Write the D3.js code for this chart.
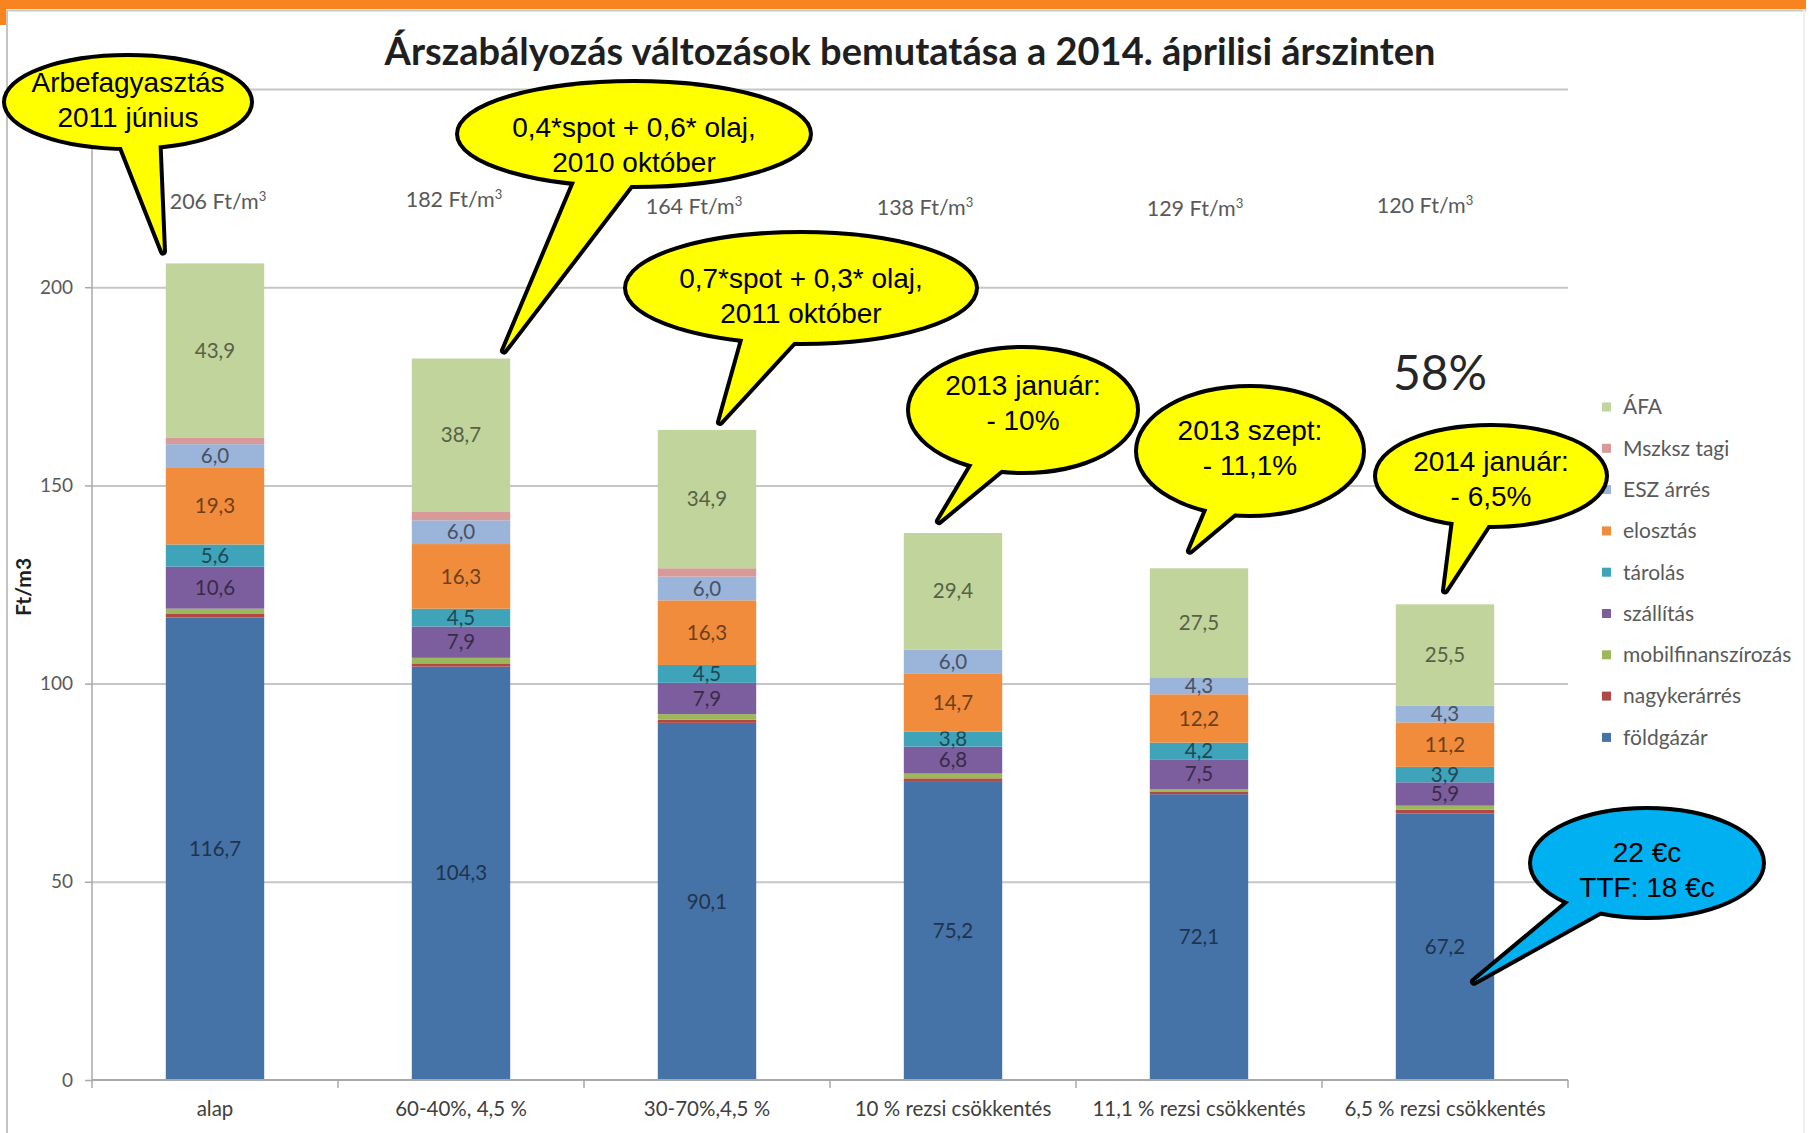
<!DOCTYPE html>
<html>
<head>
<meta charset="utf-8">
<script src="https://cdnjs.cloudflare.com/ajax/libs/d3/7.8.5/d3.min.js"></script>
<style>
  body { margin: 0; background: #fff; }
  svg { display: block; }
</style>
</head>
<body>
<div class="chart"></div>
<script>
// Kategóriák és adatsorok (Ft/m3)
const categories = ["alap", "60-40%, 4,5 %", "30-70%,4,5 %", "10 % rezsi csökkentés", "11,1 % rezsi csökkentés", "6,5 % rezsi csökkentés"];
const seriesNames = ["földgázár", "nagykerárrés", "mobilfinanszírozás", "szállítás", "tárolás", "elosztás", "ESZ árrés", "Mszksz tagi", "ÁFA"];
const foldgazar = [116.7, 104.3, 90.1, 75.2, 72.1, 67.2];
const nagykerarres = [1.0, 0.8, 0.8, 0.9, 0.7, 1.0];
const mobilfin = [1.2, 1.4, 1.4, 1.2, 0.6, 1.0];
const szallitas = [10.6, 7.9, 7.9, 6.8, 7.5, 5.9];
const tarolas = [5.6, 4.5, 4.5, 3.8, 4.2, 3.9];
const elosztas = [19.3, 16.3, 16.3, 14.7, 12.2, 11.2];
const eszArres = [6.0, 6.0, 6.0, 6.0, 4.3, 4.3];
const mszkszTagi = [1.7, 2.1, 2.1, 0, 0, 0];
const afa = [43.9, 38.7, 34.9, 29.4, 27.5, 25.5];
const yTicks = [0, 50, 100, 150, 200];
const yGrid = [50, 100, 150, 200, 250];
const colors = ["#4572a7", "#b04845", "#9db85a", "#7c5e9e", "#3fa3ba", "#f08c3c", "#9bb4d9", "#d89a98", "#c0d49b"];

// Szövegbuborékok
const callouts = [
  { lines: ["Árbefagyasztás", "2011 június"], cx: 128, cy: 102, rx: 122, ry: 45, a: [95, 73], tip: { cat: 0, dx: -52, v: 209 }, dy: -2, fill: "#ffff00" },
  { lines: ["0,4*spot + 0,6* olaj,", "2010 október"], cx: 634, cy: 134, rx: 175, ry: 51, a: [112, 89], tip: { cat: 1, dx: 43, v: 184 }, dy: 11, fill: "#ffff00" },
  { lines: ["0,7*spot + 0,3* olaj,", "2011 október"], cx: 801, cy: 288, rx: 174, ry: 54, a: [112, 90], tip: { cat: 2, dx: 13, v: 166 }, dy: 8, fill: "#ffff00" },
  { lines: ["2013 január:", "- 10%"], cx: 1023, cy: 410, rx: 113, ry: 61, a: [118, 97], tip: { cat: 3, dx: -14, v: 141 }, dy: -7, fill: "#ffff00" },
  { lines: ["2013 szept:", "- 11,1%"], cx: 1250, cy: 451, rx: 112, ry: 63, a: [114, 93], tip: { cat: 4, dx: -9, v: 133.5 }, dy: -3, fill: "#ffff00" },
  { lines: ["2014 január:", "- 6,5%"], cx: 1491, cy: 476, rx: 114, ry: 49, a: [112, 89], tip: { cat: 5, dx: 0, v: 123.5 }, dy: 3, fill: "#ffff00" },
  { lines: ["22 €c", "TTF: 18 €c"], cx: 1647, cy: 863, rx: 115, ry: 53, a: [135, 111], tip: { cat: 5, dx: 29, v: 24.8 }, dy: 7, fill: "#00b0f0" }
];
const totalNudge = [3, -7, -13, -28, -4, -20];

const width = 1813;
const height = 1133;
const plot = { left: 92, right: 1568, top: 89, bottom: 1080 };
const font = "Lato, 'Open Sans', sans-serif";

const svg = d3.select('.chart')
    .append('svg')
    .attr('width', width)
    .attr('height', height)
    .style('font-family', font);

// Keret
svg.append('rect').attr('x', 0).attr('y', 0).attr('width', 1806).attr('height', 9).attr('fill', '#f7841f');
svg.append('rect').attr('x', 0).attr('y', 0).attr('width', 6).attr('height', 25).attr('fill', '#f7841f');
svg.append('line').attr('x1', 6).attr('x2', 1806).attr('y1', 10.5).attr('y2', 10.5).attr('stroke', '#c9c9c9').attr('stroke-width', 2);
svg.append('line').attr('x1', 7).attr('x2', 7).attr('y1', 10).attr('y2', height).attr('stroke', '#c4c4c4').attr('stroke-width', 2);
svg.append('line').attr('x1', 1804).attr('x2', 1804).attr('y1', 10).attr('y2', height).attr('stroke', '#eeeeee').attr('stroke-width', 2);

// Adattábla
const seriesData = [foldgazar, nagykerarres, mobilfin, szallitas, tarolas, elosztas, eszArres, mszkszTagi, afa];
const table = categories.map((c, i) => {
    const row = { cat: c };
    seriesNames.forEach((s, j) => { row[s] = seriesData[j][i]; });
    return row;
});
const stacked = d3.stack().keys(seriesNames)(table);

const x = d3.scaleBand().domain(categories).range([plot.left, plot.right]).paddingInner(0.6).paddingOuter(0.3);
const y = d3.scaleLinear().domain([0, 250]).range([plot.bottom, plot.top]);
const color = d3.scaleOrdinal().domain(seriesNames).range(colors);
const hu = d3.formatLocale({ decimal: ",", thousands: " ", grouping: [3], currency: ["", ""] });
const fmt = hu.format(".1f");

// Rácsvonalak
svg.append('g')
    .attr('transform', `translate(${plot.left},0)`)
    .call(d3.axisLeft(y).tickValues(yGrid).tickSize(-(plot.right - plot.left)).tickFormat(''))
    .call(g => g.select('.domain').remove())
    .call(g => g.selectAll('line').attr('stroke', '#c6c6c6').attr('stroke-width', 2));

// Y tengely
svg.append('g')
    .attr('transform', `translate(${plot.left},0)`)
    .call(d3.axisLeft(y).tickValues(yTicks).tickSizeInner(7).tickSizeOuter(0).tickPadding(12))
    .call(g => g.select('.domain').attr('stroke', '#a8a8a8').attr('stroke-width', 1.5).attr('d', `M0,${plot.bottom}V${plot.top}`))
    .call(g => g.selectAll('line').attr('stroke', '#a8a8a8').attr('stroke-width', 1.5))
    .call(g => g.selectAll('text').attr('fill', '#595959').style('font-size', '19px').style('font-family', font));

svg.append('text')
    .attr('transform', `translate(31,587) rotate(-90)`)
    .attr('text-anchor', 'middle')
    .attr('fill', '#1f1f1f')
    .style('font-size', '21px')
    .style('font-weight', 'bold')
    .text('Ft/m3');

// Oszlopok
const layer = svg.append('g')
    .selectAll('g')
    .data(stacked)
    .join('g')
    .attr('fill', d => color(d.key));

layer.selectAll('rect')
    .data(d => d.map(p => Object.assign(p, { key: d.key })))
    .join('rect')
    .attr('x', d => x(d.data.cat))
    .attr('y', d => y(d[1]))
    .attr('width', x.bandwidth())
    .attr('height', d => y(d[0]) - y(d[1]));

// Értékcímkék
layer.selectAll('text')
    .data(d => d.filter(p => p[1] - p[0] >= 3))
    .join('text')
    .attr('x', d => x(d.data.cat) + x.bandwidth() / 2)
    .attr('y', d => y((d[0] + d[1]) / 2))
    .attr('dy', '0.35em')
    .attr('text-anchor', 'middle')
    .attr('fill', d => d3.color(color(d.key)).darker(2.2))
    .style('font-size', '20.5px')
    .text(d => fmt(d[1] - d[0]));

// X tengely
const xAxis = svg.append('g')
    .attr('transform', `translate(0,${plot.bottom})`)
    .call(d3.axisBottom(x).tickSize(0).tickPadding(21))
    .call(g => g.select('.domain').remove())
    .call(g => g.selectAll('text').attr('fill', '#404040').style('font-size', '20.5px').style('font-family', font));

xAxis.append('line')
    .attr('x1', plot.left).attr('x2', plot.right)
    .attr('stroke', '#a8a8a8').attr('stroke-width', 2);

const bounds = categories.map(c => x(c) + x.bandwidth() / 2 - x.step() / 2).concat([plot.right]);
xAxis.selectAll('.bound')
    .data(bounds)
    .join('line')
    .attr('class', 'bound')
    .attr('x1', d => d).attr('x2', d => d)
    .attr('y1', 0).attr('y2', 8)
    .attr('stroke', '#a8a8a8').attr('stroke-width', 1.5);

// Összegek
const totals = table.map(r => d3.sum(seriesNames, s => r[s]));
const tot = svg.append('g')
    .selectAll('text')
    .data(totals)
    .join('text')
    .attr('x', (d, i) => x(categories[i]) + x.bandwidth() / 2 + totalNudge[i])
    .attr('y', (d, i) => [209, 207, 214, 215, 216, 213][i])
    .attr('text-anchor', 'middle')
    .attr('fill', '#595959')
    .style('font-size', '21.5px');
tot.append('tspan').text(d => `${Math.round(d)} Ft/m`);
tot.append('tspan').attr('dy', -8).style('font-size', '13px').text('3');

// Cím
svg.append('text')
    .attr('x', 910)
    .attr('y', 65)
    .attr('text-anchor', 'middle')
    .attr('fill', '#1f1f1f')
    .style('font-size', '38px')
    .style('font-weight', 'bold')
    .text('Árszabályozás változások bemutatása a 2014. áprilisi árszinten');

svg.append('text')
    .attr('x', 1440)
    .attr('y', 390)
    .attr('text-anchor', 'middle')
    .attr('fill', '#262626')
    .style('font-size', '48px')
    .text('58%');

// Jelmagyarázat
const legend = svg.append('g')
    .selectAll('g')
    .data(seriesNames.slice().reverse())
    .join('g')
    .attr('transform', (d, i) => `translate(1602,${407 + i * 41.3})`);
legend.append('rect').attr('x', 0).attr('y', -4.5).attr('width', 9).attr('height', 9).attr('fill', d => color(d));
legend.append('text').attr('x', 21).attr('dy', '0.35em').attr('fill', '#595959').style('font-size', '21px').text(d => d);

// Buborékok
const ptOn = (c, deg) => {
    const r = deg * Math.PI / 180;
    return [c.cx + c.rx * 0.85 * Math.cos(r), c.cy + c.ry * 0.85 * Math.sin(r)];
};
const bubble = svg.append('g')
    .selectAll('g')
    .data(callouts)
    .join('g');

bubble.each(function (c) {
    const g = d3.select(this);
    const tip = [x(categories[c.tip.cat]) + x.bandwidth() / 2 + c.tip.dx, y(c.tip.v)];
    const wedge = [ptOn(c, c.a[0]), tip, ptOn(c, c.a[1])];
    const line = d3.line();
    g.append('ellipse').attr('cx', c.cx).attr('cy', c.cy).attr('rx', c.rx).attr('ry', c.ry)
        .attr('fill', '#000').attr('stroke', '#000').attr('stroke-width', 8);
    g.append('path').attr('d', line(wedge) + 'Z')
        .attr('fill', '#000').attr('stroke', '#000').attr('stroke-width', 8).attr('stroke-linejoin', 'round');
    g.append('ellipse').attr('cx', c.cx).attr('cy', c.cy).attr('rx', c.rx).attr('ry', c.ry).attr('fill', c.fill);
    g.append('path').attr('d', line(wedge) + 'Z').attr('fill', c.fill);
    g.append('text')
        .attr('text-anchor', 'middle')
        .attr('fill', '#000')
        .style('font-family', "'Liberation Sans', Arial, sans-serif")
        .style('font-size', '28px')
        .selectAll('tspan')
        .data(c.lines)
        .join('tspan')
        .attr('x', c.cx)
        .attr('y', (d, i) => c.cy + c.dy + (i - 0.5) * 35)
        .attr('dy', '0.35em')
        .text(d => d);
});
</script>
</body>
</html>
